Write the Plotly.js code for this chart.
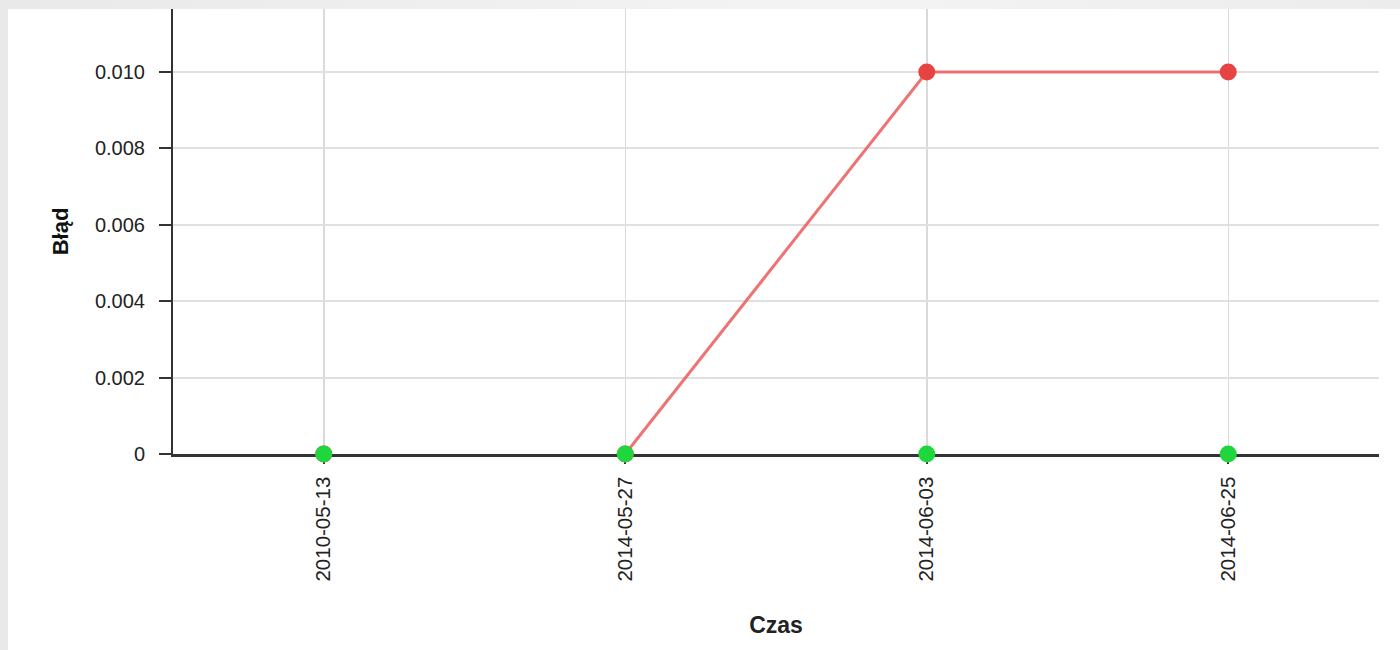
<!DOCTYPE html>
<html>
<head>
<meta charset="utf-8">
<script src="https://cdn.plot.ly/plotly-3.0.1.min.js"></script>
<style>
  html, body { margin: 0; padding: 0; width: 1400px; height: 650px; overflow: hidden;
    background: linear-gradient(to right, #e9e9e9, #f4f4f4 60%, #ececec); }
  #chart { position: absolute; left: 8px; top: 9px; width: 1392px; height: 641px; background: #ffffff; }
</style>
</head>
<body>
<div id="chart"></div>
<script>
// ---- data ----
const dates = ["2010-05-13", "2014-05-27", "2014-06-03", "2014-06-25"];
const bladValues = [0, 0, 0.01, 0.01];     // red series
const okValues = [0, 0, 0, 0];             // green series
const yTickVals = [0, 0.002, 0.004, 0.006, 0.008, 0.010];
const yTickText = ["0", "0.002", "0.004", "0.006", "0.008", "0.010"];
const xTitle = "Czas";
const yTitle = "Błąd";

// ---- styles ----
const RED = "#e84343";
const RED_LINE = "rgba(236, 90, 90, 0.85)";
const GREEN = "#1fd63c";
const FONT = "Liberation Sans, Arial, sans-serif";

// the connecting line is only visible where it leaves the zero baseline
const lineY = bladValues.map((v, i) => {
  const prev = i > 0 ? bladValues[i - 1] : 0;
  const next = i < bladValues.length - 1 ? bladValues[i + 1] : 0;
  return (v > 0 || prev > 0 || next > 0) ? v : null;
});

const lineTrace = {
  type: "scatter", mode: "lines",
  x: dates, y: lineY,
  line: { color: RED_LINE, width: 3 },
  hoverinfo: "skip", showlegend: false, connectgaps: false, cliponaxis: false
};

const redMarkers = {
  type: "scatter", mode: "markers",
  x: dates, y: bladValues,
  marker: { size: 17, color: RED },
  showlegend: false, cliponaxis: false
};

const greenMarkers = {
  type: "scatter", mode: "markers",
  x: dates, y: okValues,
  marker: { size: 17, color: GREEN },
  showlegend: false, cliponaxis: false
};

const layout = {
  width: 1392, height: 641,
  margin: { l: 165, r: 21, t: 0, b: 196 },
  paper_bgcolor: "#ffffff",
  plot_bgcolor: "#ffffff",
  font: { family: FONT, size: 20, color: "#222222" },
  showlegend: false,
  xaxis: {
    type: "category",
    range: [-0.5, 3.5],
    showline: true, linecolor: "#333333", linewidth: 2.5,
    showgrid: true, gridcolor: "#dadada", gridwidth: 1.5,
    ticks: "outside", ticklen: 7, tickwidth: 2, tickcolor: "#333333",
    tickangle: -90,
    ticklabelstandoff: 5,
    tickfont: { family: FONT, size: 20.5, color: "#222222" },
    layer: "below traces",
    zeroline: false,
    automargin: false,
    title: { text: xTitle, font: { family: FONT, size: 23, color: "#222222", weight: "bold" }, standoff: 37 }
  },
  yaxis: {
    range: [0, 0.01165],
    showline: true, linecolor: "#333333", linewidth: 2,
    showgrid: true, gridcolor: "#e0e0e0", gridwidth: 2,
    zeroline: false,
    ticks: "outside", ticklen: 12, tickwidth: 2, tickcolor: "#333333",
    tickvals: yTickVals, ticktext: yTickText,
    ticklabelstandoff: 10,
    tickfont: { family: FONT, size: 20, color: "#222222" },
    layer: "below traces",
    automargin: false,
    title: { text: yTitle, font: { family: FONT, size: 22, color: "#111111", weight: "bold" }, standoff: 20 }
  }
};

Plotly.newPlot("chart", [lineTrace, redMarkers, greenMarkers], layout, { displayModeBar: false, staticPlot: true });
</script>
</body>
</html>
